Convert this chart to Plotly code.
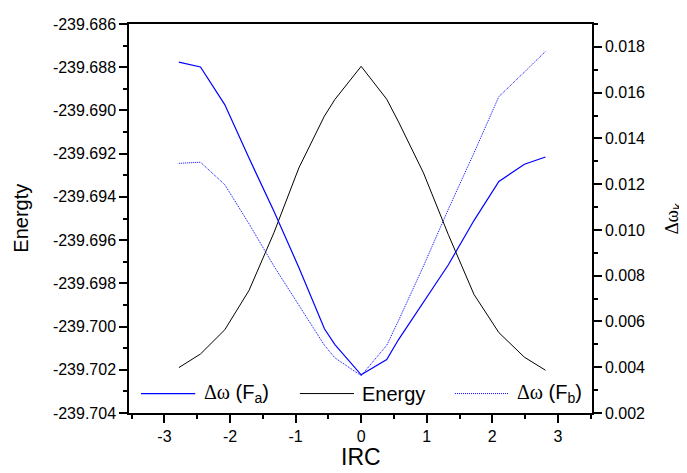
import plotly.graph_objects as go

# --- DATA ---
irc = [-2.78, -2.45, -2.08, -1.71, -1.33, -0.95, -0.56, -0.40, 0.0,
       0.39, 0.57, 0.95, 1.33, 1.72, 2.10, 2.49, 2.81]

energy = [-239.70190, -239.70127, -239.70015, -239.69833, -239.69566,
          -239.69266, -239.69026, -239.68949, -239.68796, -239.68948,
          -239.69053, -239.69289, -239.69575, -239.69851, -239.70028,
          -239.70142, -239.70202]

dw_fa = [0.01733, 0.01712, 0.01548, 0.01314, 0.01082, 0.00836, 0.00568,
         0.00499, 0.00367, 0.00434, 0.00521, 0.00684, 0.00848, 0.01041,
         0.01212, 0.01287, 0.01319]

dw_fb = [0.01291, 0.01296, 0.01198, 0.01027, 0.00842, 0.00671, 0.00496,
         0.00441, 0.00363, 0.00496, 0.00604, 0.00842, 0.01091, 0.01336,
         0.01583, 0.01690, 0.01780]

x_tickvals = [-3, -2, -1, 0, 1, 2, 3]
x_ticktext = ["-3", "-2", "-1", "0", "1", "2", "3"]
e_tickvals = [-239.686, -239.688, -239.690, -239.692, -239.694,
              -239.696, -239.698, -239.700, -239.702, -239.704]
e_ticktext = ["-239.686", "-239.688", "-239.690", "-239.692", "-239.694",
              "-239.696", "-239.698", "-239.700", "-239.702", "-239.704"]
w_tickvals = [0.002, 0.004, 0.006, 0.008, 0.010, 0.012, 0.014, 0.016, 0.018]
w_ticktext = ["0.002", "0.004", "0.006", "0.008", "0.010", "0.012",
              "0.014", "0.016", "0.018"]

FONT = "Liberation Sans, Arial, sans-serif"
GREEK = '<span style="font-family:Liberation Serif">Δω</span>'
BLUE = "#0000FF"

fig = go.Figure()

fig.add_trace(go.Scatter(x=irc, y=dw_fa, yaxis="y2", mode="lines",
                         line=dict(color=BLUE, width=1.2), name="Δω (Fa)"))
fig.add_trace(go.Scatter(x=irc, y=energy, mode="lines",
                         line=dict(color="black", width=1), name="Energy"))
fig.add_trace(go.Scatter(x=irc, y=dw_fb, yaxis="y2", mode="lines",
                         line=dict(color=BLUE, width=1, dash="1px,1px"),
                         name="Δω (Fb)"))

axis_common = dict(
    showgrid=False, zeroline=False, showline=True, linecolor="black",
    linewidth=1.5, ticks="outside", ticklen=8, tickwidth=1.5,
    tickcolor="black", tickfont=dict(family=FONT, size=16, color="black"),
)

# page body adds an 8px offset, so the figure is 8px smaller than the window
fig.update_layout(
    width=679, height=465,
    margin=dict(l=121, r=95, t=8, b=60),
    plot_bgcolor="white", paper_bgcolor="white",
    showlegend=False,
    font=dict(family=FONT, color="black"),
    xaxis=dict(range=[-3.54, 3.52], tickmode="array", tickvals=x_tickvals,
               ticktext=x_ticktext, mirror=True,
               minor=dict(ticks="outside", ticklen=4, tickwidth=1.5,
                          tickcolor="black", tickmode="linear",
                          tick0=-3.5, dtick=0.5),
               **axis_common),
    yaxis=dict(range=[-239.704, -239.686], tickmode="array",
               tickvals=e_tickvals, ticktext=e_ticktext,
               minor=dict(ticks="outside", ticklen=4, tickwidth=1.5,
                          tickcolor="black", tickmode="linear",
                          tick0=-239.704, dtick=0.001),
               **axis_common),
    yaxis2=dict(range=[0.002, 0.019], overlaying="y", side="right",
                tickmode="array", tickvals=w_tickvals, ticktext=w_ticktext,
                minor=dict(ticks="outside", ticklen=4, tickwidth=1.5,
                           tickcolor="black", tickmode="linear",
                           tick0=0.002, dtick=0.001),
                **axis_common),
)

# axis titles
fig.add_annotation(text="IRC", xref="paper", yref="paper", x=0.5, y=-0.114,
                   showarrow=False, font=dict(family=FONT, size=23),
                   xanchor="center", yanchor="middle")
fig.add_annotation(text="Energty", xref="paper", yref="paper", x=-0.235,
                   y=0.5, textangle=-90, showarrow=False,
                   font=dict(family=FONT, size=20),
                   xanchor="center", yanchor="middle")
fig.add_annotation(text=GREEK + "<sub>k</sub>", xref="paper", yref="paper",
                   x=1.173, y=0.5, textangle=-90, showarrow=False,
                   font=dict(family=FONT, size=19),
                   xanchor="center", yanchor="middle")

# hand-drawn legend inside the plot, along the bottom
leg_y = 0.05
legend_items = [
    (0.026, 0.143, 0.158, GREEK + " (F<sub>a</sub>)", dict(color=BLUE, width=1.2)),
    (0.369, 0.486, 0.499, "Energy", dict(color="black", width=1)),
    (0.704, 0.819, 0.834, GREEK + " (F<sub>b</sub>)", dict(color=BLUE, width=1, dash="1px,1px")),
]
for x0, x1, xt, label, ln in legend_items:
    fig.add_shape(type="line", xref="paper", yref="paper",
                  x0=x0, x1=x1, y0=leg_y, y1=leg_y, line=ln)
    fig.add_annotation(text=label, xref="paper", yref="paper", x=xt, y=leg_y,
                       showarrow=False, font=dict(family=FONT, size=20),
                       xanchor="left", yanchor="middle")

fig.write_html("out.html")
